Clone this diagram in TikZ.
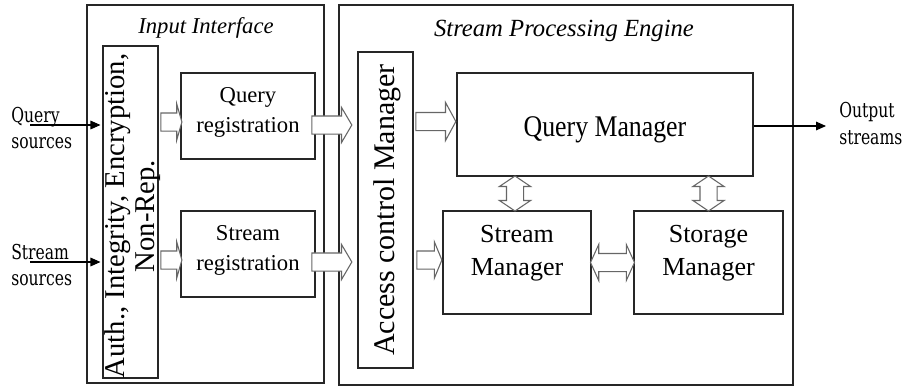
\documentclass[tikz,border=0pt]{standalone}
\usepackage{fontspec}
\setmainfont{Liberation Serif}
\newfontfamily\qmfont[FakeStretch=0.86]{Liberation Serif}
\newfontfamily\sidefont[FakeStretch=0.76]{DejaVu Serif}
\usetikzlibrary{shapes.arrows,arrows.meta,calc}
\begin{document}
\begin{tikzpicture}[x=0.75pt,y=-0.75pt,
  box/.style={draw=black!85,line width=0.8pt,inner sep=0pt},
  lbl/.style={align=center,inner sep=0pt},
  barrow/.style={single arrow,draw=black!60,fill=white,line width=0.8pt,inner xsep=0pt,inner ysep=8.5*0.75pt,anchor=tip},
  darrow/.style={double arrow,draw=black!60,fill=white,line width=0.8pt,inner xsep=0pt},
  thin/.style={draw=black,line width=0.8pt,-{Triangle[length=7.5pt,width=6.5pt]}}
]
\useasboundingbox (0,0) rectangle (904,386);
% frames
\node[box,minimum width=237*0.75pt,minimum height=378*0.75pt] (inp) at (205.5,194) {};
\node[box,minimum width=454*0.75pt,minimum height=380*0.75pt] (spe) at (566,195) {};
\node[lbl,font=\fontsize{17pt}{20pt}\selectfont\itshape] (inpt) at (206,28) {Input Interface};
\node[lbl,font=\fontsize{18.5pt}{22pt}\selectfont\itshape] (spet) at (564,31) {Stream Processing Engine};
% boxes
\node[box,minimum width=55*0.75pt,minimum height=332*0.75pt] (auth) at (130.5,212) {};
\node[box,minimum width=134*0.75pt,minimum height=86*0.75pt] (qreg) at (248,116) {};
\node[box,minimum width=134*0.75pt,minimum height=86*0.75pt] (sreg) at (248,254) {};
\node[box,minimum width=55*0.75pt,minimum height=316*0.75pt] (acm) at (385.5,210) {};
\node[box,minimum width=296*0.75pt,minimum height=103*0.75pt] (qm) at (605,124.5) {};
\node[box,minimum width=148*0.75pt,minimum height=103*0.75pt] (sm) at (517,262.5) {};
\node[box,minimum width=149*0.75pt,minimum height=103*0.75pt] (stm) at (708.5,262.5) {};
% box texts
\node[lbl,rotate=90,font=\fontsize{21.5pt}{22.5pt}\selectfont] (autht) at (133,216) {Auth., Integrity, Encryption,\\Non-Rep.};
\node[lbl,font=\fontsize{17pt}{22.5pt}\selectfont] (qregt) at ($(qreg)+(0,-4)$) {Query\\registration};
\node[lbl,font=\fontsize{17pt}{22.5pt}\selectfont] (sregt) at ($(sreg)+(0,-4)$) {Stream\\registration};
\node[lbl,rotate=90,font=\fontsize{22.5pt}{27pt}\selectfont] (acmt) at (387,210) {Access control Manager};
\node[lbl,font=\fontsize{22.5pt}{26pt}\qmfont\selectfont] (qmt) at ($(qm)+(0,5)$) {Query Manager};
\node[lbl,font=\fontsize{19.5pt}{24.75pt}\selectfont] (smt) at ($(sm)+(0,-9)$) {Stream\\Manager};
\node[lbl,font=\fontsize{19.5pt}{24.75pt}\selectfont] (stmt) at ($(stm)+(0,-9)$) {Storage\\Manager};
% outside labels
\node[lbl,align=left,anchor=west,font=\fontsize{15.4pt}{19.5pt}\sidefont\selectfont] (qsrc) at (11,128) {Query\\sources};
\node[lbl,align=left,anchor=west,font=\fontsize{15.4pt}{19.5pt}\sidefont\selectfont] (ssrc) at (11,265) {Stream\\sources};
\node[lbl,align=left,anchor=west,font=\fontsize{15.4pt}{20.25pt}\sidefont\selectfont] (outs) at (839,124) {Output\\streams};
% thin arrows
\coordinate (qin) at (30,125);
\coordinate (sin) at (30,262);
\coordinate (oend) at (826,126);
\draw[thin] (qin) -- ($(auth.west|-qin)+(-2,0)$);
\draw[thin] (sin) -- ($(auth.west|-sin)+(-2,0)$);
\draw[thin] (qm.east|-oend) -- (oend);
% block arrows
\node[barrow,minimum height=21*0.75pt,single arrow head extend=9*0.75pt,single arrow tip angle=148] (a1) at ($(qreg.west)+(2,6)$) {};
\node[barrow,minimum height=21*0.75pt,single arrow head extend=9*0.75pt,single arrow tip angle=148] (a2) at ($(sreg.west)+(2,6)$) {};
\node[barrow,minimum height=40*0.75pt,single arrow head extend=8.5*0.75pt,single arrow tip angle=119] (a3) at ($(acm.west|-qreg.east)+(-5,9)$) {};
\node[barrow,minimum height=40*0.75pt,single arrow head extend=8.5*0.75pt,single arrow tip angle=119] (a4) at ($(acm.west|-sreg.east)+(-5,8)$) {};
\node[barrow,minimum height=40*0.75pt,single arrow head extend=10*0.75pt,single arrow tip angle=123] (a5) at ($(qm.west)+(0,-3)$) {};
\node[barrow,minimum height=25*0.75pt,single arrow head extend=9*0.75pt,single arrow tip angle=135] (a6) at ($(sm.west)+(0,-2.5)$) {};
\node[darrow,rotate=90,inner ysep=8*0.75pt,minimum height=35*0.75pt,double arrow head extend=7*0.75pt,double arrow tip angle=112] (d1) at ($(sm.north)!0.5!(sm.north|-qm.south)+(-2,0)$) {};
\node[darrow,rotate=90,inner ysep=8*0.75pt,minimum height=35*0.75pt,double arrow head extend=7*0.75pt,double arrow tip angle=112] (d2) at ($(stm.north)!0.5!(stm.north|-qm.south)$) {};
\node[darrow,inner ysep=8.5*0.75pt,minimum height=44*0.75pt,double arrow head extend=9*0.75pt,double arrow tip angle=131] (d3) at ($(sm.east)!0.5!(stm.west)$) {};
\end{tikzpicture}
\end{document}
